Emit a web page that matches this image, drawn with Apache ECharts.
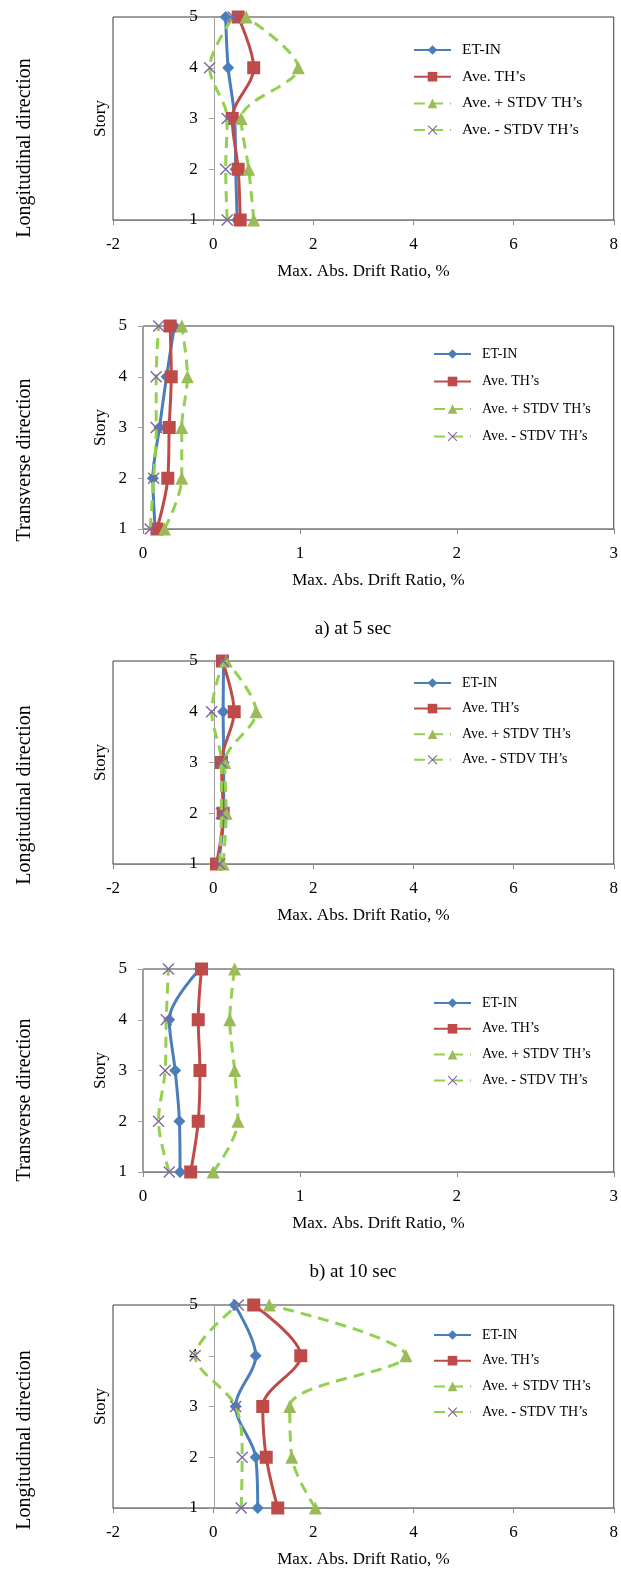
<!DOCTYPE html>
<html>
<head>
<meta charset="utf-8">
<script src="https://cdn.jsdelivr.net/npm/echarts@6/dist/echarts.min.js"></script>
<style>html,body{margin:0;padding:0;background:#fff;}#c{width:621px;height:1569px;}</style>
</head>
<body>
<div id="c"></div>
<script>
// Story levels (bottom to top)
const stories = [1, 2, 3, 4, 5];
const seriesNames = ['ET-IN', 'Ave. TH\u2019s', 'Ave. + STDV TH\u2019s', 'Ave. - STDV TH\u2019s'];

// a) at 5 sec - Longitudinal
const etin1  = [0.48, 0.45, 0.43, 0.30, 0.25];
const ave1   = [0.54, 0.50, 0.38, 0.81, 0.50];
const plus1  = [0.81, 0.71, 0.56, 1.70, 0.66];
const minus1 = [0.28, 0.25, 0.28, -0.07, 0.40];
// a) at 5 sec - Transverse
const etin2  = [0.078, 0.063, 0.105, 0.15, 0.20];
const ave2   = [0.089, 0.158, 0.167, 0.18, 0.173];
const plus2  = [0.137, 0.247, 0.247, 0.283, 0.247];
const minus2 = [0.046, 0.068, 0.084, 0.084, 0.10];
// b) at 10 sec - Longitudinal
const etin3  = [0.10, 0.21, 0.21, 0.20, 0.21];
const ave3   = [0.066, 0.20, 0.165, 0.42, 0.185];
const plus3  = [0.20, 0.26, 0.23, 0.86, 0.26];
const minus3 = [0.13, 0.165, 0.165, -0.03, 0.20];
// b) at 10 sec - Transverse
const etin4  = [0.236, 0.232, 0.205, 0.167, 0.363];
const ave4   = [0.304, 0.352, 0.363, 0.352, 0.373];
const plus4  = [0.447, 0.605, 0.584, 0.553, 0.584];
const minus4 = [0.167, 0.099, 0.141, 0.148, 0.162];
// third time step - Longitudinal
const etin5  = [0.89, 0.85, 0.45, 0.85, 0.43];
const ave5   = [1.29, 1.06, 0.99, 1.75, 0.81];
const plus5  = [2.04, 1.57, 1.53, 3.85, 1.12];
const minus5 = [0.56, 0.58, 0.45, -0.36, 0.50];

// x-axis ranges / tick spacing
const longAxis = {min: -2, max: 8, interval: 2};
const transAxis = {min: 0, max: 3, interval: 1};

const panels = [
  {data: [etin1, ave1, plus1, minus1], axis: longAxis, top: 17, left: 113, legTop: 42, legLeft: 413, legGap: 10.7, legFont: 15.5},
  {data: [etin2, ave2, plus2, minus2], axis: transAxis, top: 326, left: 143, legTop: 347, legLeft: 433, legGap: 13.5, legFont: 14},
  {data: [etin3, ave3, plus3, minus3], axis: longAxis, top: 661, left: 113, legTop: 676, legLeft: 413, legGap: 11.6, legFont: 14},
  {data: [etin4, ave4, plus4, minus4], axis: transAxis, top: 969, left: 143, legTop: 996, legLeft: 433, legGap: 11.8, legFont: 14},
  {data: [etin5, ave5, plus5, minus5], axis: longAxis, top: 1305, left: 113, legTop: 1328, legLeft: 433, legGap: 11.7, legFont: 14}
];
const plotH = 203;
const gridRight = 4;
const chartW = 621;
const serif = '"Liberation Serif", "Times New Roman", serif';

const xMark = 'path://M0,0.08 L0.08,0 L0.5,0.42 L0.92,0 L1,0.08 L0.58,0.5 L1,0.92 L0.92,1 L0.5,0.58 L0.08,1 L0,0.92 L0.42,0.5 Z';
const styles = [
  {symbol: 'diamond', symbolSize: 12, itemColor: '#4A7EBB', lineColor: '#4A7EBB', type: 'solid', width: 3},
  {symbol: 'rect', symbolSize: 13, itemColor: '#BE4B48', lineColor: '#BE4B48', type: 'solid', width: 3},
  {symbol: 'triangle', symbolSize: 13, itemColor: '#9BBB59', lineColor: '#92D050', type: [11, 7], width: 3},
  {symbol: xMark, symbolSize: 12, itemColor: '#8064A2', lineColor: '#92D050', type: [11, 7], width: 3}
];

const grid = [], xAxis = [], yAxis = [], series = [], legend = [], graphic = [];
panels.forEach((p, i) => {
  const plotW = chartW - gridRight - p.left;
  // y axis crosses the x axis at 0: shift it inward from the grid's left edge
  const zeroShift = (0 - p.axis.min) / (p.axis.max - p.axis.min) * plotW;
  grid.push({left: p.left, right: gridRight, top: p.top, height: plotH, show: true, borderColor: '#3a3a3a', borderWidth: 1, backgroundColor: 'transparent'});
  xAxis.push({
    type: 'value', gridIndex: i, min: p.axis.min, max: p.axis.max, interval: p.axis.interval,
    name: 'Max. Abs. Drift Ratio, %', nameLocation: 'middle', nameGap: 43,
    nameTextStyle: {fontFamily: serif, fontSize: 17, color: '#000'},
    axisLine: {onZero: false, lineStyle: {color: '#868686', width: 1}},
    axisTick: {show: true, inside: false, length: 5, lineStyle: {color: '#868686'}},
    axisLabel: {fontFamily: serif, fontSize: 17, color: '#000', margin: 16},
    splitLine: {show: false}
  });
  yAxis.push({
    type: 'value', gridIndex: i, min: 1, max: 5, interval: 1,
    position: 'left', offset: -zeroShift,
    axisLine: {show: true, onZero: false, lineStyle: {color: '#a0a0a0', width: 1}},
    axisTick: {show: true, inside: false, length: 5, lineStyle: {color: '#a0a0a0'}},
    axisLabel: {fontFamily: serif, fontSize: 17, color: '#000', margin: 16},
    splitLine: {show: false}
  });
  p.data.forEach((vals, k) => {
    const s = styles[k];
    series.push({
      name: seriesNames[k], type: 'line', xAxisIndex: i, yAxisIndex: i,
      data: vals.map((v, j) => [v, stories[j]]),
      smooth: 0.33,
      symbol: s.symbol, symbolSize: s.symbolSize, showAllSymbol: true,
      itemStyle: {color: s.itemColor},
      lineStyle: {color: s.lineColor, width: s.width, type: s.type},
      emphasis: {disabled: true},
      animation: false, z: 2 + k
    });
  });
  legend.push({
    orient: 'vertical', left: p.legLeft, top: p.legTop, padding: 0,
    itemWidth: 37, itemHeight: 12, itemGap: p.legGap,
    data: seriesNames,
    textStyle: {fontFamily: serif, fontSize: p.legFont, color: '#000', padding: [0, 0, 0, 6]},
    selectedMode: false
  });
  graphic.push({
    type: 'text', x: 101, y: p.top + plotH / 2, rotation: Math.PI / 2,
    style: {text: 'Story', font: '17px ' + serif, fill: '#000', align: 'center', verticalAlign: 'middle', textAlign: 'center', textVerticalAlign: 'middle'}
  });
});

const sideLabels = [
  {text: 'Longitudinal direction', y: 148},
  {text: 'Transverse direction', y: 460},
  {text: 'Longitudinal direction', y: 795},
  {text: 'Transverse direction', y: 1100},
  {text: 'Longitudinal direction', y: 1440}
];
sideLabels.forEach(l => {
  graphic.push({
    type: 'text', x: 25, y: l.y, rotation: Math.PI / 2,
    style: {text: l.text, font: '20px ' + serif, fill: '#000', align: 'center', verticalAlign: 'middle', textAlign: 'center', textVerticalAlign: 'middle'}
  });
});
const captions = [
  {text: 'a) at 5 sec', y: 629},
  {text: 'b) at 10 sec', y: 1272}
];
captions.forEach(c => {
  graphic.push({
    type: 'text', x: 353, y: c.y,
    style: {text: c.text, font: '19px ' + serif, fill: '#000', align: 'center', verticalAlign: 'middle', textAlign: 'center', textVerticalAlign: 'middle'}
  });
});

const chart = echarts.init(document.getElementById('c'), null, {renderer: 'canvas'});
chart.setOption({
  animation: false,
  backgroundColor: '#fff',
  grid, xAxis, yAxis, series, legend, graphic
});
</script>
</body>
</html>
